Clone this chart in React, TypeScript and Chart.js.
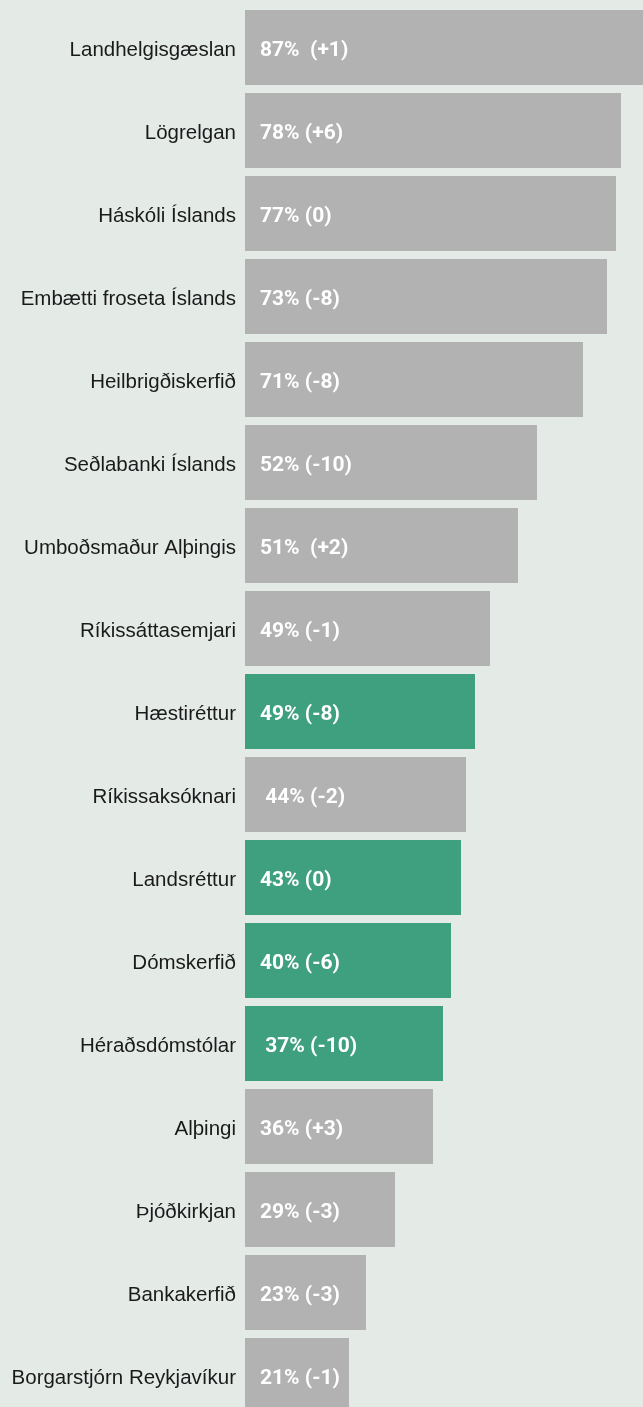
import React, { useEffect, useRef } from "react";
import { Chart, registerables } from "chart.js";

Chart.register(...registerables);

const categories = [
  "Landhelgisgæslan",
  "Lögrelgan",
  "Háskóli Íslands",
  "Embætti froseta Íslands",
  "Heilbrigðiskerfið",
  "Seðlabanki Íslands",
  "Umboðsmaður Alþingis",
  "Ríkissáttasemjari",
  "Hæstiréttur",
  "Ríkissaksóknari",
  "Landsréttur",
  "Dómskerfið",
  "Héraðsdómstólar",
  "Alþingi",
  "Þjóðkirkjan",
  "Bankakerfið",
  "Borgarstjórn Reykjavíkur",
];

// drawn bar lengths (percent units as drawn in the picture)
const barValues = [87, 75.2, 74.2, 72.4, 67.6, 58.4, 54.6, 49, 46, 44.2, 43.2, 41.2, 39.6, 37.6, 30, 24.2, 20.8];

const barLabels = [
  "87%  (+1)",
  "78% (+6)",
  "77% (0)",
  "73% (-8)",
  "71% (-8)",
  "52% (-10)",
  "51%  (+2)",
  "49% (-1)",
  "49% (-8)",
  " 44% (-2)",
  "43% (0)",
  "40% (-6)",
  " 37% (-10)",
  "36% (+3)",
  "29% (-3)",
  "23% (-3)",
  "21% (-1)",
];

const highlighted = [false, false, false, false, false, false, false, false, true, false, true, true, true, false, false, false, false];

const GRAY = "#b2b2b2";
const GREEN = "#3ea07f";
const BG = "#e4ebe7";

const labelPlugin = {
  id: "barLabels",
  afterDatasetsDraw(chart: any) {
    const ctx = chart.ctx;
    const meta = chart.getDatasetMeta(0);
    ctx.save();
    ctx.fillStyle = "#ffffff";
    ctx.font = "bold 21px Roboto, 'Liberation Sans', Arial, sans-serif";
    ctx.textAlign = "left";
    ctx.textBaseline = "middle";
    meta.data.forEach((el: any, i: number) => {
      const base = el.base;
      ctx.fillText(barLabels[i], base + 15, el.y + 3);
    });
    ctx.restore();
  },
};

export default function App() {
  const ref = useRef<HTMLCanvasElement | null>(null);

  useEffect(() => {
    document.body.style.margin = "0";
    document.body.style.background = BG;
    const canvas = ref.current;
    if (!canvas) return;
    const chart = new Chart(canvas, {
      type: "bar",
      data: {
        labels: categories,
        datasets: [
          {
            data: barValues,
            backgroundColor: highlighted.map((h) => (h ? GREEN : GRAY)),
            borderWidth: 0,
            barPercentage: 75 / 83,
            categoryPercentage: 1,
          },
        ],
      },
      options: {
        indexAxis: "y",
        animation: false,
        responsive: false,
        devicePixelRatio: 1,
        layout: { padding: { top: 6, bottom: 4, left: 0, right: 0 } },
        plugins: {
          legend: { display: false },
          tooltip: { enabled: false },
        },
        scales: {
          x: {
            display: false,
            min: 0,
            max: 79.6,
          },
          y: {
            grid: { display: false, drawTicks: false },
            border: { display: false },
            ticks: {
              color: "#1a1a1a",
              padding: 9,
              labelOffset: 3,
              font: { family: "'Liberation Sans', Arial, sans-serif", size: 20.5 },
            },
            afterFit(scale: any) {
              scale.width = 245;
              scale.paddingTop = 0;
              scale.paddingBottom = 0;
            },
          },
        },
      },
      plugins: [labelPlugin],
    });
    return () => chart.destroy();
  }, []);

  return (
    <div style={{ width: 643, height: 1407, overflow: "hidden", background: BG }}>
      <canvas ref={ref} width={643} height={1421} style={{ display: "block" }} />
    </div>
  );
}
